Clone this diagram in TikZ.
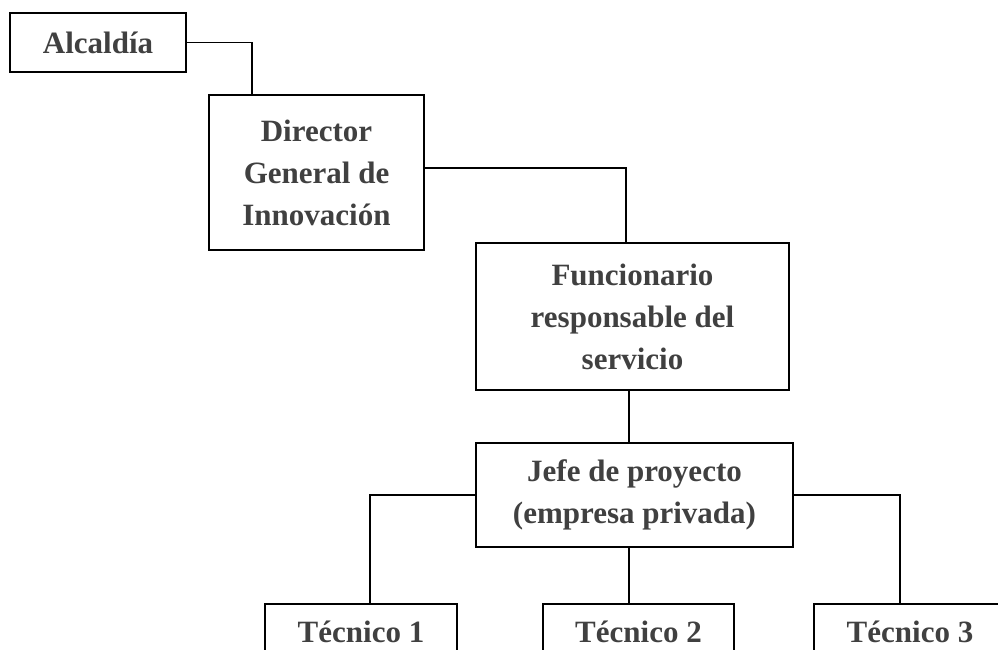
\documentclass[tikz,border=0pt]{standalone}
\usepackage{fontspec}
\setmainfont{Liberation Serif}
\usetikzlibrary{calc,positioning}
\definecolor{AText}{HTML}{404040}
\tikzset{
    block/.style = {draw, rectangle, line width=1.5pt, text=AText,
        font=\fontsize{31}{42}\selectfont\bfseries,
        align=center, inner sep=0pt},
    tecblock/.style = {block, anchor=north, minimum width=192pt,
        text height=22pt, text depth=60pt, inner ysep=17pt},
    link/.style = {draw, line width=1.5pt}
}

\begin{document}
\begin{tikzpicture}[x=1pt, y=-1pt]
            \useasboundingbox (0,0) rectangle (998,650);
            \clip (0,0) rectangle (998,650);
            \node [block, minimum width=176pt, minimum height=59pt] (alc) at (98,42.5) {Alcaldía};
            \node [block, minimum width=215pt, minimum height=155pt] (dir) at (316.5,172.5) {Director\\General de\\Innovación};
            \node [block, minimum width=313pt, minimum height=147pt] (func) at (632.5,316.5) {Funcionario\\responsable del\\servicio};
            \node [block, minimum width=317pt, minimum height=104pt] (jefe) at (634.5,495) {Jefe de proyecto\\(empresa privada)};
            \node [tecblock] (tec1) at (361,603) {Técnico 1};
            \node [tecblock, minimum width=191pt] (tec2) at (638.5,603) {Técnico 2};
            \node [tecblock] (tec3) at (910,603) {Técnico 3};
            \draw [link] (alc.east) -| ([xshift=-64.5pt]dir.north);
            \draw [link] ([yshift=4.5pt]dir.east) -| ([xshift=-6.5pt]func.north);
            \draw [link] ([xshift=-3.5pt]func.south) -- ([xshift=-3.5pt]func.south |- jefe.north);
            \draw [link] (jefe.west) -| ([xshift=9pt]tec1.north);
            \draw [link] ([xshift=-5.5pt]jefe.south) -- ([xshift=-5.5pt]jefe.south |- tec2.north);
            \draw [link] (jefe.east) -| ([xshift=-10pt]tec3.north);
        \end{tikzpicture}
\end{document}
